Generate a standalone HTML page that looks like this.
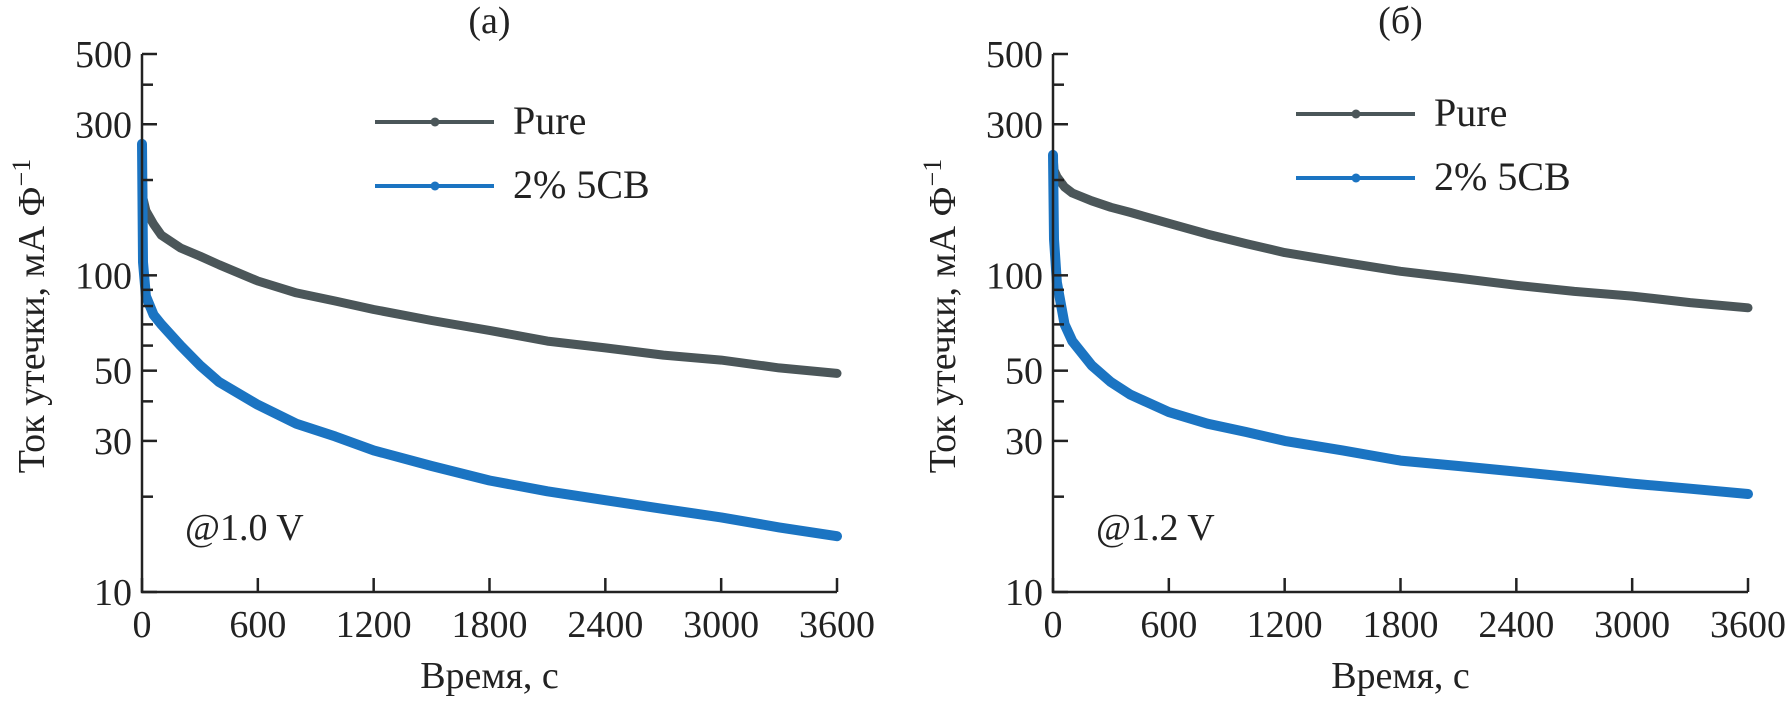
<!DOCTYPE html>
<html><head><meta charset="utf-8"><style>
html,body{margin:0;padding:0;background:#fff;}
svg{display:block;}
svg text{font-family:"Liberation Serif","DejaVu Serif",serif;}
</style></head><body>
<svg id="chart" width="1789" height="702" viewBox="0 0 1789 702" xmlns="http://www.w3.org/2000/svg"></svg>
<script>
const xTicks=[0,600,1200,1800,2400,3000,3600];
const yTicks=[10,30,50,100,300,500];
const timesA=[0,5,20,60,100,200,300,400,600,800,1000,1200,1500,1800,2100,2400,2700,3000,3300,3600];
const pureA=[230,175,160,145,134,122,115,108,96,88,83,78,72,67,62,59,56,54,51,49];
const cbA=[260,110,86,75,70,60,52,46,39,34,31,28,25,22.5,20.8,19.5,18.3,17.2,16,15];
const timesB=[0,5,20,60,100,200,300,400,600,800,1000,1200,1500,1800,2100,2400,2700,3000,3300,3600];
const pureB=[240,215,205,190,182,172,164,158,146,135,126,118,110,103,98,93,89,86,82,79];
const cbB=[240,130,95,70,62,52,46,42,37,34,32,30,28,26,25,24,23,22,21.2,20.4];
const svg=document.getElementById('chart');
const NS='http://www.w3.org/2000/svg';
function mk(tag,attrs,parent){const e=document.createElementNS(NS,tag);for(const k in attrs)e.setAttribute(k,attrs[k]);(parent||svg).appendChild(e);return e;}
const Y0=592,Y1=54,LMIN=1,LMAX=Math.log10(500);
function yS(v){return Y0-(Math.log10(v)-LMIN)/(LMAX-LMIN)*(Y0-Y1);}
function panel(x0,x1,times,pure,cb,title,volt,legX,legY1,legY2,key){
  const g=mk('g',{});
  
  
  const xS=t=>x0+t/3600*(x1-x0);
  const mkLine=(vals,col,w,name)=>{
    const pts=times.map((t,i)=>xS(t).toFixed(1)+','+yS(vals[i]).toFixed(1)).join(' ');
    const p=mk('polyline',{points:pts,fill:'none',stroke:col,'stroke-width':w,'stroke-linejoin':'round','stroke-linecap':'round'},g);
    
    
  };
  mkLine(pure,'#4b5659',9,'pure-line-'+key);
  mkLine(cb,'#1b74c2',10,'5cb-line-'+key);
  const ax=mk('path',{d:`M${x0},${Y1}V${Y0}H${x1}`,fill:'none',stroke:'#222','stroke-width':2.5},g);
  
  
  for(let d=1;d<=2;d++)for(let m=1;m<=9;m++){const v=m*Math.pow(10,d);if(v<10||v>500)continue;
    const y=yS(v);const len=yTicks.includes(v)?15:11;
    mk('line',{x1:x0,y1:y,x2:x0+len,y2:y,stroke:'#222','stroke-width':2.5},g);}
  yTicks.forEach(v=>{const t=mk('text',{x:x0-10,y:yS(v)+13,'font-size':38,'text-anchor':'end',fill:'#222'},g);t.textContent=v;
    });
  xTicks.forEach(v=>{const x=xS(v);mk('line',{x1:x,y1:Y0,x2:x,y2:Y0-14,stroke:'#222','stroke-width':2.5},g);
    const t=mk('text',{x:x,y:637,'font-size':38,'text-anchor':'middle',fill:'#222'},g);t.textContent=v;
    });
  const xt=mk('text',{x:(x0+x1)/2,y:688,'font-size':38,'text-anchor':'middle',fill:'#222'},g);xt.textContent='Время, с';
  
  const yt=mk('text',{x:0,y:0,'font-size':38,'text-anchor':'middle',fill:'#222',transform:`translate(${x0-98},316) rotate(-90)`},g);
  yt.innerHTML='Ток утечки, мА Ф<tspan dy="-14" font-size="26">−1</tspan>';
  
  const tt=mk('text',{x:(x0+x1)/2,y:33,'font-size':38,'text-anchor':'middle',fill:'#222'},g);tt.textContent=title;
  
  const vt=mk('text',{x:x0+43,y:540,'font-size':38,fill:'#222'},g);vt.textContent=volt;
  
  [[legY1,'#4b5659','Pure'],[legY2,'#1b74c2','2% 5CB']].forEach(([y,c,l])=>{
    const lg=mk('g',{},g);
    
    
    mk('line',{x1:legX,y1:y,x2:legX+119,y2:y,stroke:c,'stroke-width':4},lg);
    mk('circle',{cx:legX+60,cy:y,r:4.5,fill:c},lg);
    const t=mk('text',{x:legX+138,y:y+12,'font-size':40,fill:'#222'},lg);t.textContent=l;});
}
panel(142,837,timesA,pureA,cbA,'(a)','@1.0 V',375,122,186,'a');
panel(1053,1748,timesB,pureB,cbB,'(б)','@1.2 V',1296,114,178,'b');
</script>
</body></html>
